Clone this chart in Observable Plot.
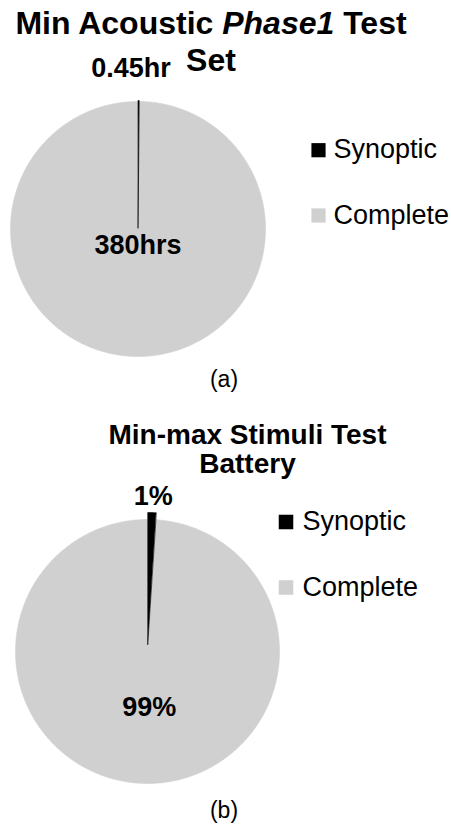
<!DOCTYPE html>
<html><head><meta charset="utf-8">
<script src="https://cdn.jsdelivr.net/npm/d3@7"></script>
<script src="https://cdn.jsdelivr.net/npm/@observablehq/plot@0.6"></script>
<style>
body{margin:0;background:#fff;font-family:"Liberation Sans",Arial,sans-serif;color:#000;}
#root{position:relative;width:451px;height:824px;overflow:hidden;background:#fff;}
.title{position:absolute;font-weight:bold;text-align:center;white-space:nowrap;}
.cap{position:absolute;font-size:23px;line-height:23px;text-align:center;width:100px;}
.chart{position:absolute;left:0;}
</style></head><body>
<div id="root">
  <div class="title" id="titleA" style="left:0;width:422px;top:5px;font-size:32px;line-height:37px;"></div>
  <div class="chart" id="chartA" style="top:40px"></div>
  <div class="cap" id="capA" style="left:174px;top:368px;"></div>
  <div class="title" id="titleB" style="left:97px;width:301px;top:420px;font-size:28px;line-height:29px;"></div>
  <div class="chart" id="chartB" style="top:480px"></div>
  <div class="cap" id="capB" style="left:174px;top:799px;"></div>
</div>
<script>
// ---- data ----
const categories = ["Synoptic", "Complete"];
const colors = ["#000000", "#d0d0d0"];
const hoursA = [0.45, 380];
const labelsA = ["0.45hr", "380hrs"];
const shareB = [1, 99];
const labelsB = ["1%", "99%"];
const titleA = ["Min Acoustic ", "Phase1", " Test", "Set"];
const titleB = ["Min-max Stimuli Test", "Battery"];
const captions = ["(a)", "(b)"];

document.getElementById("titleA").innerHTML =
  titleA[0] + "<i>" + titleA[1] + "</i>" + titleA[2] + "<br>" + titleA[3];
document.getElementById("titleB").innerHTML = titleB[0] + "<br>" + titleB[1];
document.getElementById("capA").textContent = captions[0];
document.getElementById("capB").textContent = captions[1];

function pie(cfg) {
  const arcs = d3.pie().sort(null)(cfg.values);
  const rows = [];
  // draw the large slice first, small on top
  const order = [1, 0];
  for (const i of order) {
    const a = arcs[i];
    const mid = (a.startAngle + a.endAngle) / 2;
    const ox = cfg.cx + cfg.explode[i] * Math.sin(mid);
    const oy = cfg.cy - cfg.explode[i] * Math.cos(mid);
    rows.push({cat: categories[i], x: ox, y: oy});
    const n = Math.max(1, Math.ceil((a.endAngle - a.startAngle) / (Math.PI / 360)));
    for (let k = 0; k <= n; k++) {
      const t = a.startAngle + (a.endAngle - a.startAngle) * k / n;
      rows.push({cat: categories[i], x: ox + cfg.r * Math.sin(t), y: oy - cfg.r * Math.cos(t)});
    }
  }
  const labelRows = arcs.map((a, i) => {
    const mid = (a.startAngle + a.endAngle) / 2;
    return {
      text: cfg.labels[i],
      x: cfg.cx + cfg.labelR[i] * Math.sin(mid) + cfg.labelDx[i],
      y: cfg.cy - cfg.labelR[i] * Math.cos(mid)
    };
  });
  const legendRows = categories.map((c, i) => ({cat: c, sy: cfg.legSqY[i], ty: cfg.legTxtY[i]}));
  return Plot.plot({
    width: 451,
    height: cfg.height,
    margin: 0,
    style: {background: "transparent", fontFamily: "'Liberation Sans', Arial, sans-serif"},
    x: {domain: [0, 451], range: [0, 451], axis: null},
    y: {domain: [cfg.top, cfg.top + cfg.height], range: [0, cfg.height], axis: null},
    color: {domain: categories, range: colors},
    marks: [
      Plot.line(rows, {x: "x", y: "y", z: "cat", fill: "cat", stroke: "cat", strokeWidth: 0.6, curve: "linear-closed"}),
      Plot.text(labelRows, {x: "x", y: "y", text: "text", fontSize: 27, fontWeight: "bold", fill: "#000"}),
      Plot.dot(legendRows, {x: cfg.legSqX, y: "sy", symbol: "square", r: cfg.legR, fill: "cat", stroke: null}),
      Plot.text(legendRows, {x: cfg.legTxtX, y: "ty", text: "cat", textAnchor: "start", fontSize: 27, fill: "#000"})
    ]
  });
}

document.getElementById("chartA").append(pie({
  values: hoursA, labels: labelsA, top: 40, height: 330,
  cx: 137.5, cy: 228.5, r: 127.5, explode: [1, 0],
  labelR: [160.5, 16.5], labelDx: [-7.5, 0],
  legSqX: 318, legSqY: [149.7, 215], legTxtX: 333, legTxtY: [149, 215], legR: 8
}));

document.getElementById("chartB").append(pie({
  values: shareB, labels: labelsB, top: 480, height: 310,
  cx: 147, cy: 651, r: 132, explode: [7, 0],
  labelR: [155, 55.5], labelDx: [1, 3.5],
  legSqX: 285.5, legSqY: [521.5, 587], legTxtX: 302, legTxtY: [521, 587], legR: 8.2
}));
</script>
</body></html>
